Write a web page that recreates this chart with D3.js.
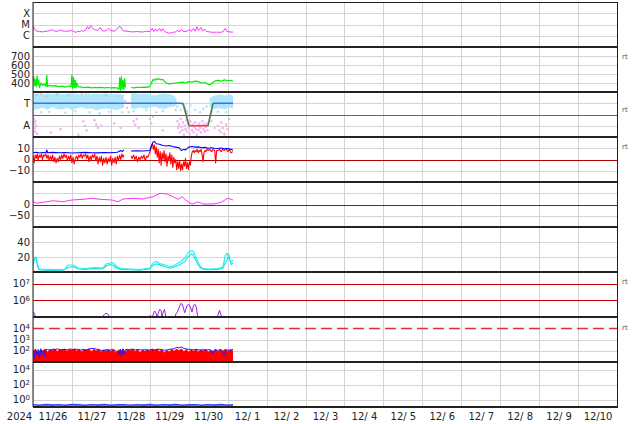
<!DOCTYPE html>
<html><head><meta charset="utf-8">
<script src="https://cdn.jsdelivr.net/npm/d3@7"></script>
<style>
body{margin:0;background:#fff}
svg{display:block}
text{font-family:"DejaVu Sans",sans-serif;fill:#222}
</style></head>
<body><svg id="c" width="634" height="424"></svg>
<script>
// ---------------- DATA (time = hours since 2024-11-26 00:00 UTC) ----------------
const dayLabels = ["11/26","11/27","11/28","11/29","11/30","12/ 1","12/ 2","12/ 3","12/ 4","12/ 5","12/ 6","12/ 7","12/ 8","12/ 9","12/10"];
const yearLabel = "2024";

const xrayTicks = [1e-4,1e-5,1e-6];
const xrayTickLabels = ["X","M","C"];
const xray = [[0,8e-6],[1,4e-6],[2,2.6e-6],[4,2.4e-6],[6,2.2e-6],[8,2.5e-6],[10,2.8e-6],[12,3.5e-6],[13,2.6e-6],[15,2.5e-6],[17,3.2e-6],[18,2.7e-6],[20,2.5e-6],[22,2.6e-6],[24,2.9e-6],[25,2.4e-6],[26.5,2.0e-6],[27.5,2.5e-6],[29,2.3e-6],[30,3.0e-6],[31,2.4e-6],[32.5,3.2e-6],[33.5,6.5e-6],[34.5,4e-6],[35.5,8e-6],[36.5,5e-6],[38,3.5e-6],[40,3.0e-6],[41.5,5.5e-6],[43,2.6e-6],[45,2.8e-6],[46.5,4.5e-6],[48,3e-6],[50,2.5e-6],[51.5,3.5e-6],[53,6.5e-6],[54,6e-6],[55.5,2.8e-6],[58,2.5e-6],[60,2.3e-6],[62,2.2e-6],[64,2.4e-6],[66,2.2e-6],[68,2.2e-6],[70,2.5e-6],[72,2.3e-6],[73.5,4.5e-6],[74.5,2.4e-6],[75.5,4e-6],[76.5,2.5e-6],[78,4.5e-6],[79,2.5e-6],[80,4.2e-6],[81,2.6e-6],[82.5,1.9e-6],[84,1.7e-6],[86,1.9e-6],[88,2.3e-6],[89,3e-6],[90,2.2e-6],[91.5,3.5e-6],[93,2.3e-6],[95,2.6e-6],[96.5,3.8e-6],[97.5,2.4e-6],[99,4.5e-6],[100,2.5e-6],[101,6.5e-6],[102,3e-6],[103.5,5.5e-6],[104.5,2.6e-6],[106,3.8e-6],[107,2.4e-6],[109,2.2e-6],[111,2.0e-6],[113,2.1e-6],[115,2.0e-6],[117,2.2e-6],[118.5,4.5e-6],[119.5,2.5e-6],[121,2.2e-6],[123.3,2.1e-6]];

const speedTicks = [400,500,600,700];
const speed = [[0,420],[0.5,470],[1,370],[1.5,440],[2,360],[2.5,480],[3,380],[3.5,430],[4,350],[5,400],[6,370],[7,390],[8,360],[8.5,485],[9,360],[10,375],[12,365],[14,370],[16,360],[18,365],[20,355],[22,370],[23.5,360],[24,490],[24.5,340],[25,460],[25.5,350],[26,430],[26.5,345],[27,400],[28,360],[30,355],[32,350],[34,355],[36,345],[38,350],[40,348],[42,352],[44,345],[46,350],[48,345],[50,348],[52,345],[53,330],[53.5,460],[54,320],[54.5,470],[55,340],[55.5,430],[56,330],[56.5,450],[57,350],null,[60.5,350],[62,345],[64,352],[66,350],[68,355],[70,352],[72,360],[73,400],[74,440],[75,430],[76,450],[77,440],[78,445],[79,435],[80,440],[81,420],[82,400],[83,395],[84,390],[86,395],[88,400],[90,405],[92,410],[94,400],[96,415],[98,410],[100,420],[102,415],[104,400],[106,405],[108,385],[109,380],[110,395],[112,420],[114,430],[116,420],[118,435],[120,425],[122,430],[123.3,420]];

const phiTicks = [0.5,-0.5];
const phiTickLabels = ["T","A"];
// light-blue dot cloud envelope: [hour, top, bottom]
const phiBand = [[0,0.9,0.2],[3,0.95,0.25],[6,0.9,0.3],[9,0.93,0.22],[12,0.9,0.32],[15,0.95,0.25],[18,0.9,0.22],[21,0.92,0.3],[24,0.95,0.2],[27,0.9,0.28],[30,0.88,0.32],[33,0.93,0.24],[36,0.9,0.28],[39,0.92,0.18],[42,0.9,0.25],[45,0.93,0.28],[48,0.9,0.24],[51,0.92,0.2],[54,0.9,0.26],[56,0.88,0.3],null,[60.4,0.92,0.28],[63,0.95,0.24],[66,0.9,0.32],[69,0.93,0.26],[72,0.9,0.32],[75,0.85,0.36],[78,0.9,0.28],[81,0.93,0.24],[84,0.9,0.32],[87,0.85,0.36],[88.5,0.7,0.42],null,[109,0.75,0.32],[112,0.85,0.24],[115,0.9,0.28],[118,0.85,0.24],[121,0.9,0.3],[123.3,0.85,0.28]];
const phiBlueDots = [[5,0.1],[10,0.12],[20,0.08],[26,0.15],[35,0.1],[41,0.05],[47,0.12],[55,0.1],[62,0.15],[70,0.2],[80,0.15],[89,0.35],[90,0.5],[91,0.2],[92,0.45],[93.5,0.3],[95,0.15],[97,0.4],[100,0.2],[103,0.1],[105,0.25],[107,0.35],[110,0.15],[114,0.12],[119,0.1]];
const phiPinkDots = [[0.5,-0.2],[0.8,-0.4],[1,-0.6],[1.2,-0.75],[1.5,-0.3],[2,-0.5],[2.5,-0.85],[11,-0.8],[17,-0.65],[28,-0.9],[31,-0.3],[32,-0.5],[33,-0.7],[38,-0.25],[39,-0.45],[40,-0.6],[42,-0.5],[50,-0.4],[54,-0.6],[62,-0.3],[63,-0.45],[64,-0.2],[65,-0.6],[80,-0.7],[89,-0.3],[89.5,-0.6],[90,-0.45],[90.5,-0.8],[91,-0.2],[91.5,-0.55],[92,-0.7],[92.5,-0.35],[93,-0.9],[93.5,-0.5],[94,-0.65],[94.5,-0.25],[95,-0.75],[95.5,-0.4],[96,-0.6],[96.5,-0.85],[97,-0.3],[97.5,-0.5],[98,-0.7],[98.5,-0.45],[99,-0.8],[99.5,-0.55],[100,-0.35],[100.5,-0.65],[101,-0.9],[101.5,-0.5],[102,-0.7],[102.5,-0.4],[103,-0.6],[103.5,-0.8],[104,-0.5],[104.5,-0.3],[105,-0.65],[105.5,-0.45],[106,-0.75],[106.5,-0.55],[107,-0.4],[107.5,-0.7],[114,-0.5],[115,-0.7],[116,-0.35],[117,-0.6],[118,-0.85],[119,-0.45],[120,-0.65]];
const phiGrayDots = [[2,0.85],[5,0.9],[8,0.8],[15,0.88],[22,0.85],[30,0.9],[45,0.85],[52,0.8],[57,0.6],[58,0.3],[59,0.1],[72,-0.2],[73,-0.4],[74,-0.1],[76,0.1],[88,0.2],[95,0.05],[110,-0.3],[112,-0.6],[116,-0.8],[118,-0.9],[121,-0.2]];
const polarity = [[0,0.5],[92.5,0.5],[96.2,-0.5],[107.9,-0.5],[111,0.5],[123.3,0.5]];

const bTicks = [10,0,-10];
const bt = [[0,6],[2,6.5],[4,5.8],[6,6.2],[8,6],[8.5,8.5],[9,6],[12,6.3],[16,6],[20,6.2],[24,5.8],[28,6],[32,6.3],[36,6],[40,5.9],[44,6.2],[48,6],[52,6.5],[54,8],[55,7],[56,8.5],null,[60.4,7.5],[64,7.8],[68,7.5],[72,8],[73,12],[74,15.5],[75,16],[76,14],[78,13.5],[80,12.5],[82,12],[84,12.5],[86,11.5],[88,11],[90,10.5],[91.5,8],[93,9],[94,8.5],[96,11],[98,11.5],[100,11],[102,11.2],[104,10.5],[106,10.8],[108,10],[110,10.5],[112,10],[114,9.8],[116,10.2],[118,9.5],[120,9.8],[122,9],[123.3,8.5]];
const bz = [[0,3],[0.7,-3],[1.3,4],[2,1],[2.6,5],[3.2,-1],[3.8,4],[4.5,2],[5.2,5],[5.8,0],[6.5,4],[7.2,3],[7.9,5],[8.6,1],[9.3,4],[10,-1],[10.7,3],[11.4,0],[12.1,4],[12.8,-2],[13.5,2],[14.2,-3],[14.9,1],[15.6,-2],[16.3,3],[17,0],[17.7,4],[18.4,1],[19.1,5],[19.8,2],[20.5,4],[21.2,-1],[21.9,3],[22.6,0],[23.3,4],[24,-3],[24.7,2],[25.4,-4],[26.1,1],[26.8,3],[27.5,0],[28.2,4],[28.9,2],[29.6,5],[30.3,1],[31,4],[31.7,3],[32.4,5],[33.1,1],[33.8,4],[34.5,-2],[35.2,3],[35.9,0],[36.6,4],[37.3,2],[38,5],[38.7,-1],[39.4,3],[40.1,-4],[40.8,2],[41.5,-2],[42.2,3],[42.9,-5],[43.6,1],[44.3,-3],[45,2],[45.7,-4],[46.4,1],[47.1,-2],[47.8,3],[48.5,-5],[49.2,1],[49.9,-3],[50.6,2],[51.3,-4],[52,3],[52.7,-1],[53.4,4],[54.1,0],[54.8,5],[55.5,2],[56,4],null,[60.4,3],[61.2,1],[62,4],[62.8,0],[63.6,3],[64.4,-2],[65.2,2],[66,0],[66.8,3],[67.6,1],[68.4,4],[69.2,-1],[70,3],[70.8,2],[71.6,5],[72.4,8],[73,12],[73.6,14],[74.2,9],[74.8,13],[75.4,5],[76,11],[76.6,2],[77.2,9],[77.8,-3],[78.4,7],[79,-5],[79.6,6],[80.2,0],[80.8,8],[81.4,-2],[82,5],[82.6,-6],[83.2,3],[83.8,-1],[84.4,6],[85,-4],[85.6,4],[86.2,-7],[86.8,2],[87.4,-3],[88,0],[88.6,-9],[89.2,-2],[89.8,-8],[90.4,-1],[91,-10],[91.6,-4],[92.2,-9],[92.8,-2],[93.4,-6],[94,1],[94.6,-8],[95.2,-3],[95.8,-9],[96.4,-2],[97,-5],[97.6,3],[98.2,7],[98.8,8],[99.4,6],[100,8],[100.6,7],[101.2,9],[101.8,6],[102.4,8],[103,7],[103.6,9],[104.2,5],[104.8,-2],[105.4,6],[106,8],[106.6,7],[107.2,9],[108,8],[109,9],[110,7],[111,9],[112,8],[112.6,-3],[113.2,8],[114,8],[115,9],[116,7],[117,9],[118,8],[119,10],[120,7],[121,9],[122,6],[123.3,7]];

const dstTicks = [0,-50];
const dst = [[0.2,12.4],[2.3,5.3],[6.2,9.8],[12.3,16.9],[18.5,12.4],[24,20],[30.8,23.1],[36.4,27.6],[41.3,23.1],[48.7,20],[52.4,12.4],[55.5,24.4],[61.7,27.6],[67.8,24.4],[74,34.7],[78.3,49.8],[82.6,46.7],[86.3,34.7],[89.4,23.1],[91.9,34.7],[93.7,23.1],[96.8,5.3],[98.6,2.2],[101.7,12.4],[104.8,2.2],[111,2.2],[115.3,8],[120.2,27.6],[123.3,20]];

const pTicks = [40,20];
const cyanA = [[0,18],[1.2,19.6],[1.8,20],[2.8,11.6],[3.7,3.6],[7.4,3.6],[13.6,3.2],[19.7,3.5],[21.6,9.3],[24,9.3],[25.9,8],[27.7,5.3],[32.1,4.7],[38.2,6],[43.2,5.3],[45,10.7],[47.5,12],[49.3,12.4],[51.2,8],[53.6,4.7],[59.8,4],[66,3.3],[72.1,5.3],[74,12],[75.8,14],[78.3,11.3],[81.4,9.3],[84.5,6.7],[87.5,9.3],[90.6,13.3],[93.7,18.7],[95.5,25.3],[97.4,28.4],[98.6,28],[99.9,22.7],[101.7,13.3],[103,8],[104.8,4.7],[109.1,4],[114.1,4.7],[117.1,6.7],[118.4,21.3],[119.6,25.3],[120.8,18.7],[122.1,13.3],[123.3,16]];
const cyanB = [[0,10],[1,17],[1.8,19],[2.8,8],[3.7,3],[7,2.5],[13,2.2],[19,2.5],[21.6,6],[24,7],[26,6],[27.7,4],[32,3.5],[38,4.5],[43,4],[45,8],[47.5,10],[49.3,9],[51,6],[53.6,3.5],[60,3],[66,2.5],[72,4],[74,9],[76,11],[78.3,9.5],[81.4,7],[84.5,5],[87.5,7],[90.6,10],[93.7,14],[95.5,20],[97.4,24],[98.6,23],[100,17],[101.7,10],[103,6],[105,3.5],[109,3],[114,3.5],[117,5],[118.4,12],[119.6,16],[120.8,23],[122.1,10],[123.3,12]];

const eTicks = [1e7,1e6];
const electron = [[0,2.2e5],[1,1.5e5],[2,6e4],[3,3e4],[16,3e4],[17,1.05e5],[18,3e4],[25,3e4],[26,1.05e5],[27,3e4],[35,3e4],[36,1.05e5],[37,3e4],[42,3e4],[43.5,1.3e5],[45,1.7e5],[46.5,1.4e5],[47.5,6e4],[48,3e4],[70,3e4],[71.5,1.1e5],[72.5,1.2e5],[73,6e4],[74,1.4e5],[75,2.3e5],[76,1.6e5],[76.5,6e4],[77,1.5e5],[78,2.8e5],[79,2.5e5],[79.5,9e4],[80,1.6e5],[81,2.8e5],[81.5,1.8e5],[82,6e4],[82.5,3e4],[87,3e4],[88,1.5e5],[89,2e5],[90,3.5e5],[91,6.3e5],[92,6e5],[93.5,1.8e5],[95,5e5],[96,5.8e5],[97,4e5],[98,2e5],[99,5e5],[100,5.6e5],[100.8,3.5e5],[101.5,1e5],[102,3e4],[113,3e4],[114,1.3e5],[115,2.5e5],[116,1.2e5],[117,3e4],[123.3,3e4]];

const protonTicks = [1e4,1e3,1e2];
const protonRed = [[0,90],[1.5,150],[3,70],[4.5,130],[6,100],[7.5,160],[9,80],[10.5,140],[12,110],[13.5,170],[15,90],[16.5,150],[18,120],[19.5,160],[21,95],[22.5,140],[24,110],[25.5,170],[27,100],[28.5,150],[30,85],[31.5,140],[33,115],[34.5,160],[36,90],[37.5,145],[39,105],[40.5,150],[42,80],[43.5,135],[45,100],[46.5,150],[48,90],[49.5,140],[51,70],[52.5,130],[54,95],[55.5,150],[57,85],[58.5,140],[60,105],[61.5,150],[63,90],[64.5,140],[66,75],[67.5,130],[69,95],[70.5,145],[72,100],[73.5,160],[75,110],[76.5,150],[78,90],[79.5,140],[81,70],[82.5,125],[84,85],[85.5,140],[87,100],[88.5,150],[90,110],[91.5,160],[93,90],[94.5,140],[96,80],[97.5,130],[99,95],[100.5,145],[102,85],[103.5,135],[105,100],[106.5,150],[108,80],[109.5,130],[111,95],[112.5,145],[114,85],[115.5,135],[117,100],[118.5,150],[120,90],[121.5,135],[123.3,100]];
const protonBlue = [[0,120],[0.8,25],[1.6,140],[2.4,40],[3.2,130],[4,20],[4.8,150],[5.6,60],[6.4,110],[7.2,30],[8,120],[9,130],[10.5,110],[12,140],[13.5,120],[15,150],[17,115],[19,135],[21,120],[23,145],[25,125],[27,140],[29,110],[31,130],[33,120],[35,150],[37,160],[39,140],[41,120],[43,100],[45,125],[47,110],[49,130],[51,100],[53,45],[53.8,140],[54.6,30],[55.4,150],[56.2,50],[57,130],[59,120],[61,140],[63,120],[65,130],[67,115],[69,125],[71,110],[73,130],[75,120],[77,140],[79,125],[81,110],[83,120],[85,140],[87,150],[88.5,200],[90,180],[91.5,220],[93,160],[95,140],[97,130],[99,120],[101,135],[103,110],[105,125],[107,115],[109,130],[111,60],[112,120],[114,110],[116,130],[118,40],[119,120],[121,110],[123.3,130]];

const lowTicks = [1e4,1e2,1e0];
const lowFlux = [[0,0.2],[4,0.17],[8,0.21],[12,0.18],[16,0.2],[20,0.17],[24,0.21],[28,0.19],[32,0.17],[36,0.2],[40,0.18],[44,0.21],[48,0.17],[52,0.19],[56,0.2],[60,0.17],[64,0.2],[68,0.18],[72,0.21],[76,0.17],[80,0.2],[84,0.18],[88,0.21],[92,0.17],[96,0.19],[100,0.2],[104,0.17],[108,0.2],[112,0.18],[116,0.21],[120,0.17],[123.3,0.19]];

// ---------------- LAYOUT ----------------
const L = 33, R = 617, TOP = 2, PH = 45;
const t0 = Date.UTC(2024,10,26), t1 = Date.UTC(2024,11,11);
const tD = h => new Date(t0 + h*3600000);
const x = d3.scaleUtc().domain([t0, t1]).range([L, R]);
const pt = i => TOP + i*PH, pb = i => TOP + (i+1)*PH;

const ys = [
  d3.scaleLog().domain([1e-7,1e-3]).range([pb(0),pt(0)]),
  d3.scaleLinear().domain([300,800]).range([pb(1),pt(1)]),
  d3.scaleLinear().domain([-1,1]).range([pb(2),pt(2)]),
  d3.scaleLinear().domain([-20,20]).range([pb(3),pt(3)]),
  d3.scaleLinear().domain([-100,100]).range([pb(4),pt(4)]),
  d3.scaleLinear().domain([0,60]).range([pb(5),pt(5)]),
  d3.scaleLog().domain([1e5,5e7]).range([pb(6),pt(6)]),
  d3.scaleLog().domain([10,1e5]).range([pb(7),pt(7)]),
  d3.scaleLog().domain([0.1,1e5]).range([pb(8),pt(8)])
];

const svg = d3.select("#c");
svg.append("rect").attr("width",634).attr("height",424).attr("fill","#fff");
const defs = svg.append("defs");
ys.forEach((y,i)=>{
  defs.append("clipPath").attr("id","cp"+i).append("rect")
    .attr("x",L).attr("y",pt(i)).attr("width",R-L).attr("height",PH);
});

// grids
const gridG = svg.append("g").attr("stroke","#d4d4d4").attr("stroke-width",1);
d3.utcDay.range(new Date(t0), new Date(t1)).forEach(d=>{
  gridG.append("line").attr("x1",Math.round(x(d))+0.5).attr("x2",Math.round(x(d))+0.5).attr("y1",TOP).attr("y2",pb(8));
});
const hGrid = [[0,xrayTicks],[1,speedTicks],[2,phiTicks],[3,[10,-10]],[4,[50,-50]],[5,pTicks],[7,[1e3,1e2]],[8,lowTicks]];
hGrid.forEach(([i,vals])=>{
  vals.forEach(v=>{
    const yy = Math.round(ys[i](v))+0.5;
    gridG.append("line").attr("x1",L).attr("x2",R).attr("y1",yy).attr("y2",yy);
  });
});

// reference lines
const ref = svg.append("g");
function hline(i,v,color,dash,w){
  const yy = Math.round(ys[i](v))+0.5;
  ref.append("line").attr("x1",L).attr("x2",R).attr("y1",yy).attr("y2",yy)
    .attr("stroke",color).attr("stroke-width",w||1).attr("stroke-dasharray",dash||null);
}
hline(2,0,"#666");
hline(3,0,"#b00000");
hline(4,0,"#cc0000");
eTicks.forEach(v=>hline(6,v,"#cc0000"));
hline(7,1e4,"#dd3333","11,5",1.3);

// helpers
function drawLine(i,data,color,w){
  const y = ys[i];
  svg.append("path").datum(data).attr("clip-path",`url(#cp${i})`)
    .attr("fill","none").attr("stroke",color).attr("stroke-width",w||1).attr("stroke-linejoin","round")
    .attr("d", d3.line().defined(d=>d!=null).x(d=>x(tD(d[0]))).y(d=>y(d[1]))(data));
}
function drawDots(i,data,color,r){
  const y = ys[i];
  svg.append("g").attr("clip-path",`url(#cp${i})`).selectAll("circle").data(data).join("circle")
    .attr("cx",d=>x(tD(d[0]))).attr("cy",d=>y(d[1])).attr("r",r||1.2).attr("fill",color);
}

// panel 0: X-ray
drawLine(0,xray,"#ff33ff",1);
// panel 1: speed
drawLine(1,speed,"#00ee00",1.2);
// panel 2: IMF sector
svg.append("path").datum(phiBand).attr("clip-path","url(#cp2)").attr("fill","#aee6fb")
  .attr("d", d3.area().defined(d=>d!=null).x(d=>x(tD(d[0]))).y0(d=>ys[2](d[2])).y1(d=>ys[2](d[1]))(phiBand));
drawDots(2,phiBlueDots,"#aee6fb",1.3);
drawDots(2,phiGrayDots,"#c4c4c4",1.1);
drawDots(2,phiPinkDots,"#f6b4f0",1.3);
for(let k=0;k<polarity.length-1;k++){
  const a=polarity[k], b=polarity[k+1];
  const c = (a[1]>0&&b[1]>0)?"#4a6cf0":(a[1]<0&&b[1]<0)?"#ee4444":"#4f7a55";
  drawLine(2,[a,b],c,1.6);
}
// panel 3: Bt, Bz
drawLine(3,bz,"#ff0000",1.1);
drawLine(3,bt,"#0000ff",1.1);
// panel 4
drawLine(4,dst,"#ff33ff",1);
// panel 5
drawLine(5,cyanB,"#00e8e8",1.1);
drawLine(5,cyanA,"#22eeee",1.1);
// panel 6
drawLine(6,electron,"#a020e0",1);
// panel 7
svg.append("path").attr("clip-path","url(#cp7)").attr("fill","#ff0000")
  .attr("d", d3.area().x(d=>x(tD(d[0]))).y0(ys[7](10)).y1(d=>ys[7](d[1]))(protonRed));
drawLine(7,protonBlue,"#1a1aff",1);
// panel 8
drawLine(8,lowFlux,"#3344ff",1.6);

// frame
const fr = svg.append("g").attr("stroke","#222");
fr.append("line").attr("x1",L).attr("x2",L).attr("y1",TOP).attr("y2",pb(8)).attr("stroke-width",1);
fr.append("line").attr("x1",R+0.5).attr("x2",R+0.5).attr("y1",TOP).attr("y2",pb(8)).attr("stroke-width",1);
fr.append("line").attr("x1",L).attr("x2",R+1).attr("y1",TOP+0.5).attr("y2",TOP+0.5).attr("stroke-width",1);
for(let i=1;i<9;i++){
  fr.append("line").attr("x1",L).attr("x2",R+1).attr("y1",pt(i)).attr("y2",pt(i)).attr("stroke-width",2.2);
}
fr.append("line").attr("x1",L).attr("x2",R+1).attr("y1",pb(8)).attr("y2",pb(8)).attr("stroke-width",1.8);

// y axes
function yAxis(i,vals,labels,sup){
  const g = svg.append("g").attr("transform",`translate(${L},0)`)
    .call(d3.axisLeft(ys[i]).tickValues(vals).tickSize(0).tickPadding(3)
      .tickFormat((d,k)=> sup ? "" : labels[k]));
  g.select(".domain").remove();
  g.selectAll("text").attr("font-size",10).attr("fill","#222").style("font-family","DejaVu Sans");
  if(sup){
    g.selectAll("text").each(function(d){
      const t = d3.select(this);
      t.append("tspan").text("10");
      t.append("tspan").attr("dy","-0.45em").attr("font-size",7).text(Math.round(Math.log10(d)));
    });
  }
}
yAxis(0,xrayTicks,xrayTickLabels);
yAxis(1,speedTicks,speedTicks.map(String));
yAxis(2,phiTicks,phiTickLabels);
yAxis(3,bTicks,bTicks.map(v=>v<0?"\u2212"+(-v):String(v)));
yAxis(4,dstTicks,dstTicks.map(v=>v<0?"\u2212"+(-v):String(v)));
yAxis(5,pTicks,pTicks.map(String));
yAxis(6,eTicks,null,true);
yAxis(7,protonTicks,null,true);
yAxis(8,lowTicks,null,true);

// x axis
const noon = dayLabels.map((s,k)=>new Date(t0 + (k*24+12)*3600000));
const xa = svg.append("g").attr("transform",`translate(0,${pb(8)})`)
  .call(d3.axisBottom(x).tickValues(noon).tickSize(0).tickPadding(6).tickFormat((d,k)=>dayLabels[k]));
xa.select(".domain").remove();
xa.selectAll("text").attr("font-size",10).attr("fill","#222").style("white-space","pre").style("font-family","DejaVu Sans");
svg.append("text").attr("x",19.5).attr("y",420).attr("text-anchor","middle").attr("font-size",10).text(yearLabel);

// right-side "rt" markers
[[1,10],[2,18],[3,10],[6,10],[7,11]].forEach(([i,off])=>{
  svg.append("text").attr("x",622).attr("y",pt(i)+off+2).attr("font-size",7).attr("fill","#555").style("fill","#555").text("rt");
});
</script></body></html>
